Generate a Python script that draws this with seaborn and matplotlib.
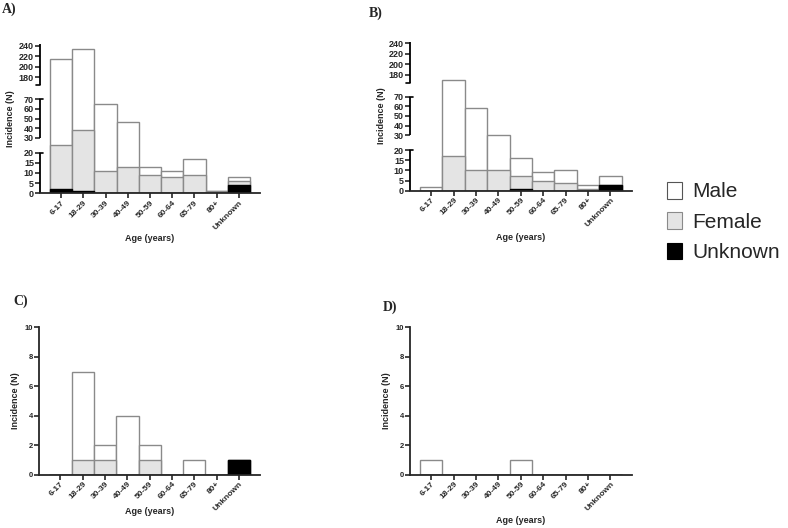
import numpy as np
import pandas as pd
import matplotlib
matplotlib.use("Agg")
import matplotlib.pyplot as plt
import seaborn as sns
from matplotlib.patches import Patch

# age groups shared by all panels
ages = ['6-17', '18-29', '30-39', '40-49', '50-59', '60-64', '65-79', '80+', 'Unknown']

# counts per sex, per panel
a_male = [190, 196, 54, 33, 4, 3, 8, 0, 2]
a_female = [23, 37, 11, 13, 9, 8, 9, 1, 2]
a_unknown = [2, 1, 0, 0, 0, 0, 0, 0, 4]

b_male = [2, 152, 48, 20, 9, 4, 6, 2, 4]
b_female = [0, 17, 10, 10, 6, 5, 4, 1, 0]
b_unknown = [0, 0, 0, 0, 1, 0, 0, 0, 3]

c_male = [0, 6, 1, 4, 1, 0, 1, 0, 0]
c_female = [0, 1, 1, 0, 1, 0, 0, 0, 0]
c_unknown = [0, 0, 0, 0, 0, 0, 0, 0, 1]

d_male = [1, 0, 0, 0, 1, 0, 0, 0, 0]
d_female = [0, 0, 0, 0, 0, 0, 0, 0, 0]
d_unknown = [0, 0, 0, 0, 0, 0, 0, 0, 0]

broken_ticks = [0, 5, 10, 15, 20, 30, 40, 50, 60, 70, 180, 200, 220, 240]
linear_ticks = [0, 2, 4, 6, 8, 10]

MALE_C = 'white'
FEMALE_C = '#e4e4e4'
UNK_C = 'black'
EDGE = '#8a8a8a'

# piecewise y mapping for the broken axis (data value -> pixel-ish units)
_ys = np.array([-1000, 0, 20, 30, 70, 165, 240, 10000], dtype=float)
_us = np.array([-2030, 0, 40.6, 55.3, 94, 108, 147.5, 147.5 + 9760 * 0.52])


def fwd(y):
    return np.interp(y, _ys, _us)


def inv(u):
    return np.interp(u, _us, _ys)


def draw_panel(ax, male, female, unknown, broken):
    df = pd.DataFrame({'age': ages, 'male': male, 'female': female, 'unknown': unknown})
    df['f_top'] = df['unknown'] + df['female']
    df['m_top'] = df['f_top'] + df['male']
    kw = dict(x='age', order=ages, width=1.0, errorbar=None, ax=ax, linewidth=1.0)
    sns.barplot(data=df, y='m_top', color=MALE_C, edgecolor=EDGE, **kw)
    sns.barplot(data=df, y='f_top', color=FEMALE_C, edgecolor=EDGE, **kw)
    sns.barplot(data=df, y='unknown', color=UNK_C, edgecolor='black', **kw)

    ax.set_xlim(-0.95, 8.95)
    for s in ['top', 'right']:
        ax.spines[s].set_visible(False)
    ax.spines['bottom'].set_linewidth(1.3)
    ax.spines['left'].set_linewidth(1.3)
    ax.tick_params(axis='both', direction='out', length=3.5, width=1.2, pad=0.8)
    ax.set_xticks(range(len(ages)))
    ax.set_xticklabels(ages, rotation=45, ha='right', rotation_mode='anchor',
                       fontsize=6, fontweight='bold')

    if broken:
        ax.set_yscale('function', functions=(fwd, inv))
        ax.set_ylim(0, 243)
        ax.set_yticks(broken_ticks)
        ax.spines['left'].set_visible(False)
        tr = ax.get_yaxis_transform()
        for lo, hi in [(0, 20), (30, 70), (165, 243)]:
            ax.plot([0, 0], [lo, hi], color='black', lw=1.3, transform=tr,
                    clip_on=False, solid_capstyle='butt')
        # small caps at segment ends
        ax.plot([-0.02, 0.0], [165, 165], color='black', lw=1.2, transform=tr, clip_on=False)
        for yv in [20, 70]:
            ax.plot([0.0, 0.012], [yv, yv], color='black', lw=1.2, transform=tr, clip_on=False)
        ytick_fs = 6.5
    else:
        ax.set_ylim(0, 10)
        ax.set_yticks(linear_ticks)
        ytick_fs = 5.5
    ax.set_yticklabels([str(t) for t in ax.get_yticks()], fontsize=ytick_fs, fontweight='bold')
    ax.set_ylabel('Incidence (N)', fontsize=6.5, fontweight='bold')
    ax.set_xlabel('Age (years)', fontsize=6.5, fontweight='bold')
    ax.xaxis.label.set_va('center')
    ax.yaxis.label.set_va('center')


sns.set_theme(style='ticks')
plt.rcParams['font.family'] = ['Liberation Sans', 'DejaVu Sans']

fig = plt.figure(figsize=(7.88, 5.28), dpi=100)
W, H = 788, 528


def add_axes(left, right, base, top):
    return fig.add_axes([left / W, (H - base) / H, (right - left) / W, (base - top) / H])


ax_a = add_axes(40, 260, 193.3, 44)
ax_b = add_axes(410, 631.7, 190.7, 41.5)
ax_c = add_axes(39.3, 260, 474.7, 327.3)
ax_d = add_axes(410, 631.7, 474.7, 327.3)

draw_panel(ax_a, a_male, a_female, a_unknown, True)
draw_panel(ax_b, b_male, b_female, b_unknown, True)
draw_panel(ax_c, c_male, c_female, c_unknown, False)
draw_panel(ax_d, d_male, d_female, d_unknown, False)

ax_a.yaxis.set_label_coords(-0.136, 0.5)
ax_b.yaxis.set_label_coords(-0.13, 0.5)
ax_c.yaxis.set_label_coords(-0.11, 0.5)
ax_d.yaxis.set_label_coords(-0.105, 0.5)
ax_a.xaxis.set_label_coords(0.5, -0.306)
ax_b.xaxis.set_label_coords(0.5, -0.313)
ax_c.xaxis.set_label_coords(0.5, -0.251)
ax_d.xaxis.set_label_coords(0.5, -0.312)

for lbl, (px, py) in {'A)': (9, 9.5), 'B)': (375.5, 13.5), 'C)': (20.5, 301), 'D)': (390, 307)}.items():
    fig.text(px / W, 1 - py / H, lbl, ha='center', va='center', fontsize=10,
             fontweight='bold', family='Liberation Serif')

handles = [Patch(facecolor=MALE_C, edgecolor='#555555', linewidth=0.8),
           Patch(facecolor=FEMALE_C, edgecolor=EDGE, linewidth=0.8),
           Patch(facecolor=UNK_C, edgecolor='black', linewidth=0.8)]
fig.legend(handles, ['Male', 'Female', 'Unknown'], loc='center left',
           bbox_to_anchor=(667 / W, 1 - 222 / H), frameon=False, fontsize=15,
           handlelength=0.74, handleheight=0.85, labelspacing=0.52,
           handletextpad=0.47, borderpad=0, borderaxespad=0)

fig.savefig('out.png', dpi=100)
